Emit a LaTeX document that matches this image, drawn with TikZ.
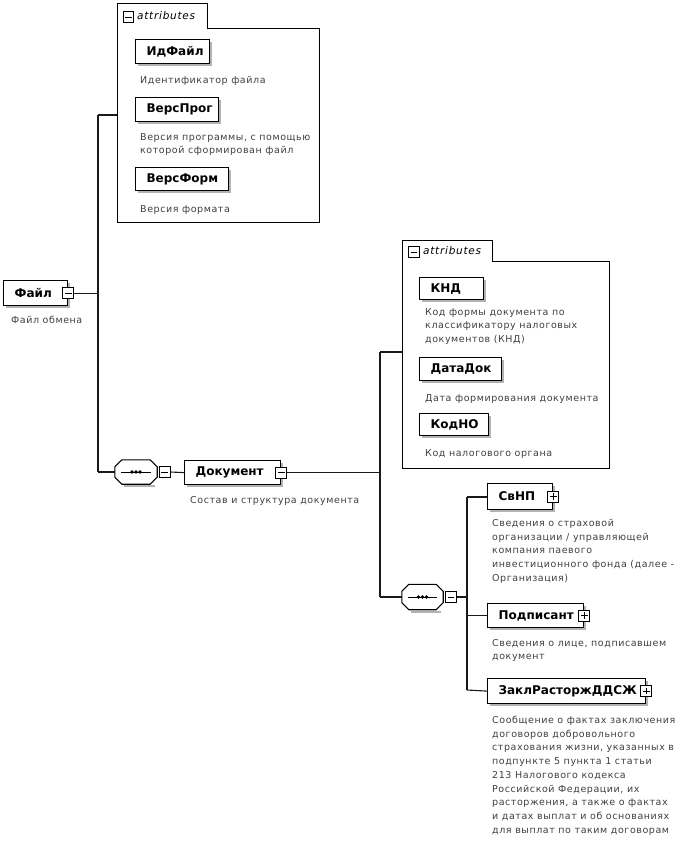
\documentclass[tikz,border=0pt]{standalone}
\usepackage{fontspec}
\setmainfont{DejaVu Sans}
\newfontfamily\descfont{DejaVu Sans}[LetterSpace=6]
\newfontfamily\attrfont{DejaVu Sans}[LetterSpace=7]
\usetikzlibrary{shadows}
\begin{document}
\begin{tikzpicture}[x=1pt,y=-1pt,
  conn/.style={line width=1.1pt, black!90},
  elem/.style={draw, line width=1.2pt, fill=white, anchor=north west,
    inner xsep=11pt, inner ysep=0pt, align=left,
    font=\bfseries\fontsize{12}{14}\selectfont,
    drop shadow={shadow xshift=2.5pt, shadow yshift=-2.5pt, fill=black!30, opacity=1}},
  desc/.style={anchor=north west, inner sep=0pt, align=left, text=black!75,
    font=\descfont\fontsize{9.5}{13.7}\selectfont},
  btn/.style={draw, line width=1pt, fill=white, minimum size=11pt, inner sep=0pt},
  minusbtn/.style={btn, path picture={\draw[line width=0.9pt]
      ([xshift=2.2pt]path picture bounding box.west) -- ([xshift=-2.2pt]path picture bounding box.east);}},
  plusbtn/.style={btn, path picture={\draw[line width=0.9pt]
      ([xshift=2.2pt]path picture bounding box.west) -- ([xshift=-2.2pt]path picture bounding box.east)
      ([yshift=2.2pt]path picture bounding box.south) -- ([yshift=-2.2pt]path picture bounding box.north);}},
  attrbox/.style={line width=0.9pt},
  attrlbl/.style={anchor=west, inner sep=0pt, font=\attrfont\itshape\fontsize{10.5}{12}\selectfont},
  seqshape/.style={minimum width=#1, minimum height=24pt, inner sep=0pt},
]
\useasboundingbox (0,0) rectangle (676,841);

% ---------- attributes box of Файл ----------
\draw[attrbox] (117,222) -- (117,3) -- (207,3) -- (207,28) -- (319,28) -- (319,222) -- cycle;
\node[minusbtn, minimum size=10.5pt] (attrAbtn) at (128.5,17) {};
\node[attrlbl] (attrAlbl) at (137,16) {attributes};
\coordinate (attrAleft) at (117,115);

\node[elem, text width=52pt, minimum height=24pt] (idf) at (135,39) {ИдФайл};
\node[desc] (idfd) at (140,76) {Идентификатор файла};
\node[elem, text width=61pt, minimum height=24pt] (verprog) at (135,97) {ВерсПрог};
\node[desc] (verprogd) at (140,133) {Версия программы, с помощью\\которой сформирован файл};
\node[elem, text width=71pt, minimum height=23pt] (verform) at (135,167) {ВерсФорм};
\node[desc] (verformd) at (140,205) {Версия формата};

% ---------- Файл ----------
\node[elem, text width=42pt, minimum height=25pt] (fajl) at (3,280) {Файл};
\node[minusbtn] (fajlbtn) at (fajl.east) {};
\node[desc] (fajld) at (11,316) {Файл обмена};

\coordinate (jA1) at (98,115);
\coordinate (jA2) at (98,472);
\draw[conn] (fajlbtn.east) -- (fajlbtn.east -| jA1);
\draw[conn] (jA1) -- (jA2);
\draw[conn] (jA1) -- (attrAleft);

% ---------- sequence 1 ----------
\node[seqshape=42pt] (seqA) at (136,472) {};
\fill[black!30] ([xshift=9pt,yshift=-3pt]seqA.south west) rectangle ([xshift=-2pt,yshift=-1pt]seqA.south east);
\draw[line width=1.1pt, fill=white]
  ([xshift=7pt]seqA.north west) -- ([xshift=-7pt]seqA.north east) -- ([yshift=-7pt]seqA.north east)
  -- ([yshift=7pt]seqA.south east) -- ([xshift=-7pt]seqA.south east) -- ([xshift=7pt]seqA.south west)
  -- ([yshift=7pt]seqA.south west) -- ([yshift=-7pt]seqA.north west) -- cycle;
\draw[line width=1pt] ([xshift=6pt]seqA.west) -- ([xshift=-6pt]seqA.east);
\foreach \dx in {-4,0,4} \fill ([xshift=\dx pt]seqA.center) circle (1.9);
\node[minusbtn] (seqAbtn) at (164.5,472) {};
\draw[conn] (jA2) -- (seqA.west);

% ---------- Документ ----------
\node[elem, text width=74pt, minimum height=24pt] (dok) at (184,460) {Документ};
\node[minusbtn] (dokbtn) at (dok.east) {};
\node[desc] (dokd) at (190,496) {Состав и структура документа};
\draw[conn] (seqAbtn.east) -- (dok.west);

\coordinate (jB1) at (380,352);
\coordinate (jB2) at (380,597);
\draw[conn] (dokbtn.east) -- (dokbtn.east -| jB1);
\draw[conn] (jB1) -- (jB2);

% ---------- attributes box of Документ ----------
\draw[attrbox] (402,468) -- (402,240) -- (492,240) -- (492,261) -- (609,261) -- (609,468) -- cycle;
\node[minusbtn, minimum size=10.5pt] (attrBbtn) at (414,252) {};
\node[attrlbl] (attrBlbl) at (423,251) {attributes};
\coordinate (attrBleft) at (402,352);
\draw[conn] (jB1) -- (attrBleft);

\node[elem, text width=42pt, minimum height=22pt] (knd) at (419,277) {КНД};
\node[desc] (kndd) at (425,308) {Код формы документа по\\классификатору налоговых\\документов (КНД)};
\node[elem, text width=60pt, minimum height=23pt] (datadok) at (419,357) {ДатаДок};
\node[desc] (datadokd) at (425,394) {Дата формирования документа};
\node[elem, text width=47pt, minimum height=22pt] (kodno) at (419,413) {КодНО};
\node[desc] (kodnod) at (425,449) {Код налогового органа};

% ---------- sequence 2 ----------
\node[seqshape=41pt, minimum height=25pt] (seqB) at (422.5,597) {};
\fill[black!30] ([xshift=9pt,yshift=-3pt]seqB.south west) rectangle ([xshift=-2pt,yshift=-1pt]seqB.south east);
\draw[line width=1.1pt, fill=white]
  ([xshift=7pt]seqB.north west) -- ([xshift=-7pt]seqB.north east) -- ([yshift=-7pt]seqB.north east)
  -- ([yshift=7pt]seqB.south east) -- ([xshift=-7pt]seqB.south east) -- ([xshift=7pt]seqB.south west)
  -- ([yshift=7pt]seqB.south west) -- ([yshift=-7pt]seqB.north west) -- cycle;
\draw[line width=1pt] ([xshift=6pt]seqB.west) -- ([xshift=-6pt]seqB.east);
\foreach \dx in {-4,0,4} \fill ([xshift=\dx pt]seqB.center) circle (1.9);
\node[minusbtn] (seqBbtn) at (451,597) {};
\draw[conn] (jB2) -- (seqB.west);

\coordinate (jC1) at (467,497);
\coordinate (jC3) at (467,690);
\draw[conn] (seqBbtn.east) -- (seqBbtn.east -| jC1);
\draw[conn] (jC1) -- (jC3);

% ---------- children ----------
\node[elem, text width=43pt, minimum height=26pt] (svnp) at (487,483) {СвНП};
\node[plusbtn] (svnpbtn) at (svnp.east) {};
\node[desc] (svnpd) at (492,519) {Сведения о страховой\\организации / управляющей\\компания паевого\\инвестиционного фонда (далее -\\Организация)};
\draw[conn] (jC1) -- (jC1 -| svnp.west);

\node[elem, text width=74pt, minimum height=24pt] (podp) at (487,603) {Подписант};
\node[plusbtn] (podpbtn) at (podp.east) {};
\node[desc] (podpd) at (492,639) {Сведения о лице, подписавшем\\документ};
\draw[conn] (podp.west -| jC1) -- (podp.west);

\node[elem, text width=136pt, minimum height=25pt] (zakl) at (487,678) {ЗаклРасторжДДСЖ};
\node[plusbtn] (zaklbtn) at (zakl.east) {};
\node[desc] (zakld) at (492,716) {Сообщение о фактах заключения\\договоров добровольного\\страхования жизни, указанных в\\подпункте 5 пункта 1 статьи\\213 Налогового кодекса\\Российской Федерации, их\\расторжения, а также о фактах\\и датах выплат и об основаниях\\для выплат по таким договорам};
\draw[conn] (jC3) -- (zakl.west);
\end{tikzpicture}
\end{document}
